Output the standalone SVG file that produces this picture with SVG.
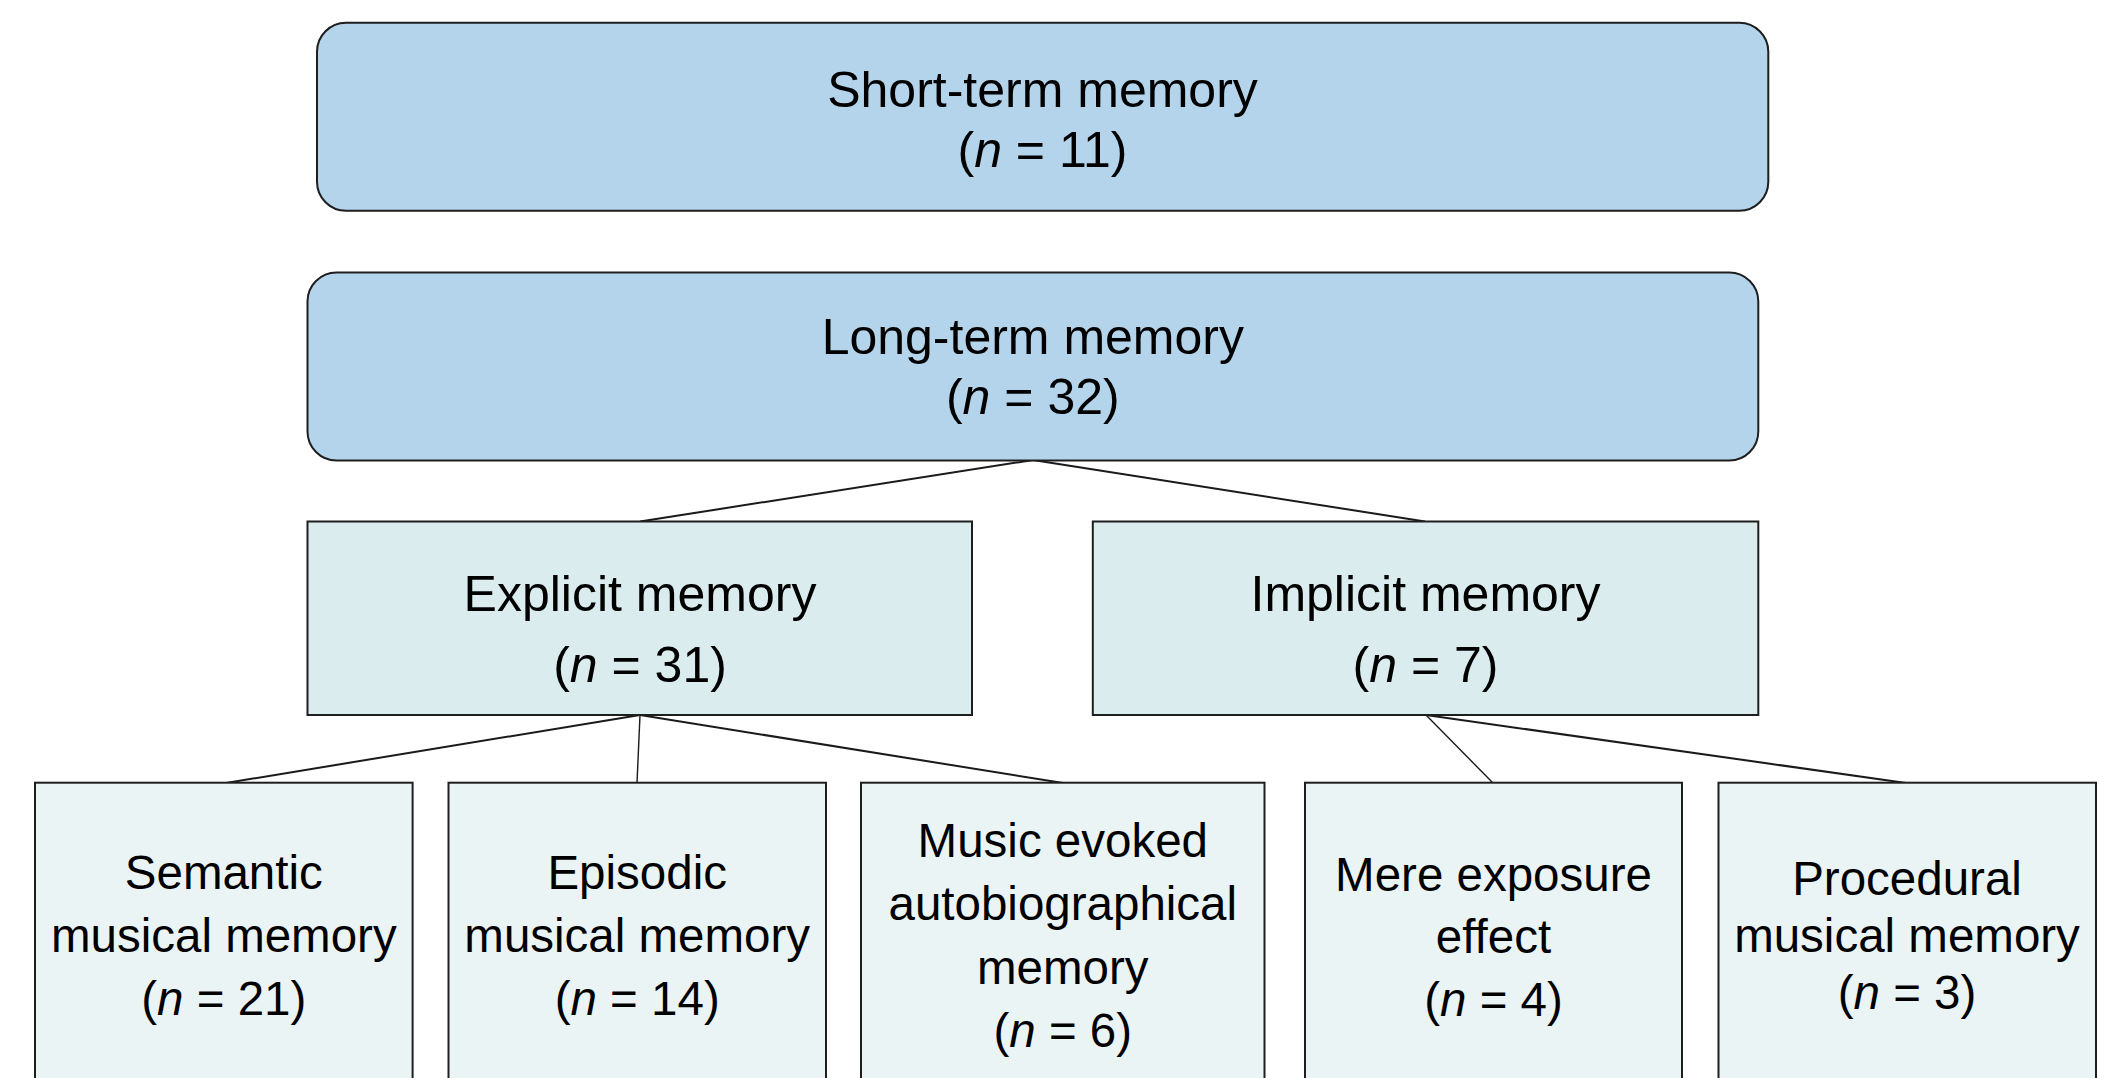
<svg xmlns="http://www.w3.org/2000/svg" width="2107" height="1078" viewBox="0 0 2107 1078">
<style>
text{font-family:"Liberation Sans",Arial,Helvetica,sans-serif;fill:#000;text-anchor:middle}
.t1{font-size:50px}
.t3{font-size:47.5px}
.top{fill:#b4d4ec;stroke:#1e1e1e;stroke-width:2}
.mid{fill:#daecee;stroke:#1e1e1e;stroke-width:2}
.bot{fill:#ebf4f5;stroke:#1e1e1e;stroke-width:2}
.i{font-style:italic}
#connectors line{stroke:#1a1a1a;stroke-width:2}
</style>
<rect width="2107" height="1078" fill="#fff"/>
<g id="connectors">
<line x1="1033" y1="460" x2="640" y2="521.5"/>
<line x1="1033" y1="460" x2="1425" y2="521.5"/>
<line x1="640" y1="715" x2="226" y2="783"/>
<line x1="640" y1="715" x2="637" y2="783" style="stroke-width:1.4"/>
<line x1="640" y1="715" x2="1063" y2="783"/>
<line x1="1426" y1="715" x2="1493" y2="783" style="stroke-width:1.4"/>
<line x1="1426" y1="715" x2="1906" y2="783"/>
</g>
<g id="short-term">
<rect class="top" x="317" y="22.7" width="1451.3" height="188" rx="29" ry="29"/>
<text class="t1" x="1042.5" y="107">Short-term memory</text>
<text class="t1" x="1042.5" y="167">(<tspan class="i">n</tspan> = 11)</text>
</g>
<g id="long-term">
<rect class="top" x="307.5" y="272.5" width="1450.8" height="188" rx="29" ry="29"/>
<text class="t1" x="1032.8" y="354">Long-term memory</text>
<text class="t1" x="1032.8" y="414">(<tspan class="i">n</tspan> = 32)</text>
</g>
<g id="explicit">
<rect class="mid" x="307.5" y="521.5" width="664.5" height="193.5"/>
<text class="t1" x="640" y="611">Explicit memory</text>
<text class="t1" x="640" y="682">(<tspan class="i">n</tspan> = 31)</text>
</g>
<g id="implicit">
<rect class="mid" x="1092.8" y="521.5" width="665.5" height="193.5"/>
<text class="t1" x="1425.5" y="611">Implicit memory</text>
<text class="t1" x="1425.5" y="682">(<tspan class="i">n</tspan> = 7)</text>
</g>
<g id="semantic">
<rect class="bot" x="35" y="782.7" width="377.6" height="320"/>
<text class="t3" x="223.8" y="889">Semantic</text>
<text class="t3" x="223.8" y="951.5">musical memory</text>
<text class="t3" x="223.8" y="1014.5">(<tspan class="i">n</tspan> = 21)</text>
</g>
<g id="episodic">
<rect class="bot" x="448.5" y="782.7" width="377.5" height="320"/>
<text class="t3" x="637.2" y="889">Episodic</text>
<text class="t3" x="637.2" y="951.5">musical memory</text>
<text class="t3" x="637.2" y="1014.5">(<tspan class="i">n</tspan> = 14)</text>
</g>
<g id="music-evoked">
<rect class="bot" x="861" y="782.7" width="403.5" height="320"/>
<text class="t3" x="1062.8" y="856.7">Music evoked</text>
<text class="t3" x="1062.8" y="920">autobiographical</text>
<text class="t3" x="1062.8" y="983.5">memory</text>
<text class="t3" x="1062.8" y="1046.7">(<tspan class="i">n</tspan> = 6)</text>
</g>
<g id="mere-exposure">
<rect class="bot" x="1305" y="782.7" width="377" height="320"/>
<text class="t3" x="1493.5" y="890.7">Mere exposure</text>
<text class="t3" x="1493.5" y="953.4">effect</text>
<text class="t3" x="1493.5" y="1016">(<tspan class="i">n</tspan> = 4)</text>
</g>
<g id="procedural">
<rect class="bot" x="1718.5" y="782.7" width="377.5" height="320"/>
<text class="t3" x="1907" y="895">Procedural</text>
<text class="t3" x="1907" y="951.5">musical memory</text>
<text class="t3" x="1907" y="1009">(<tspan class="i">n</tspan> = 3)</text>
</g>
</svg>
